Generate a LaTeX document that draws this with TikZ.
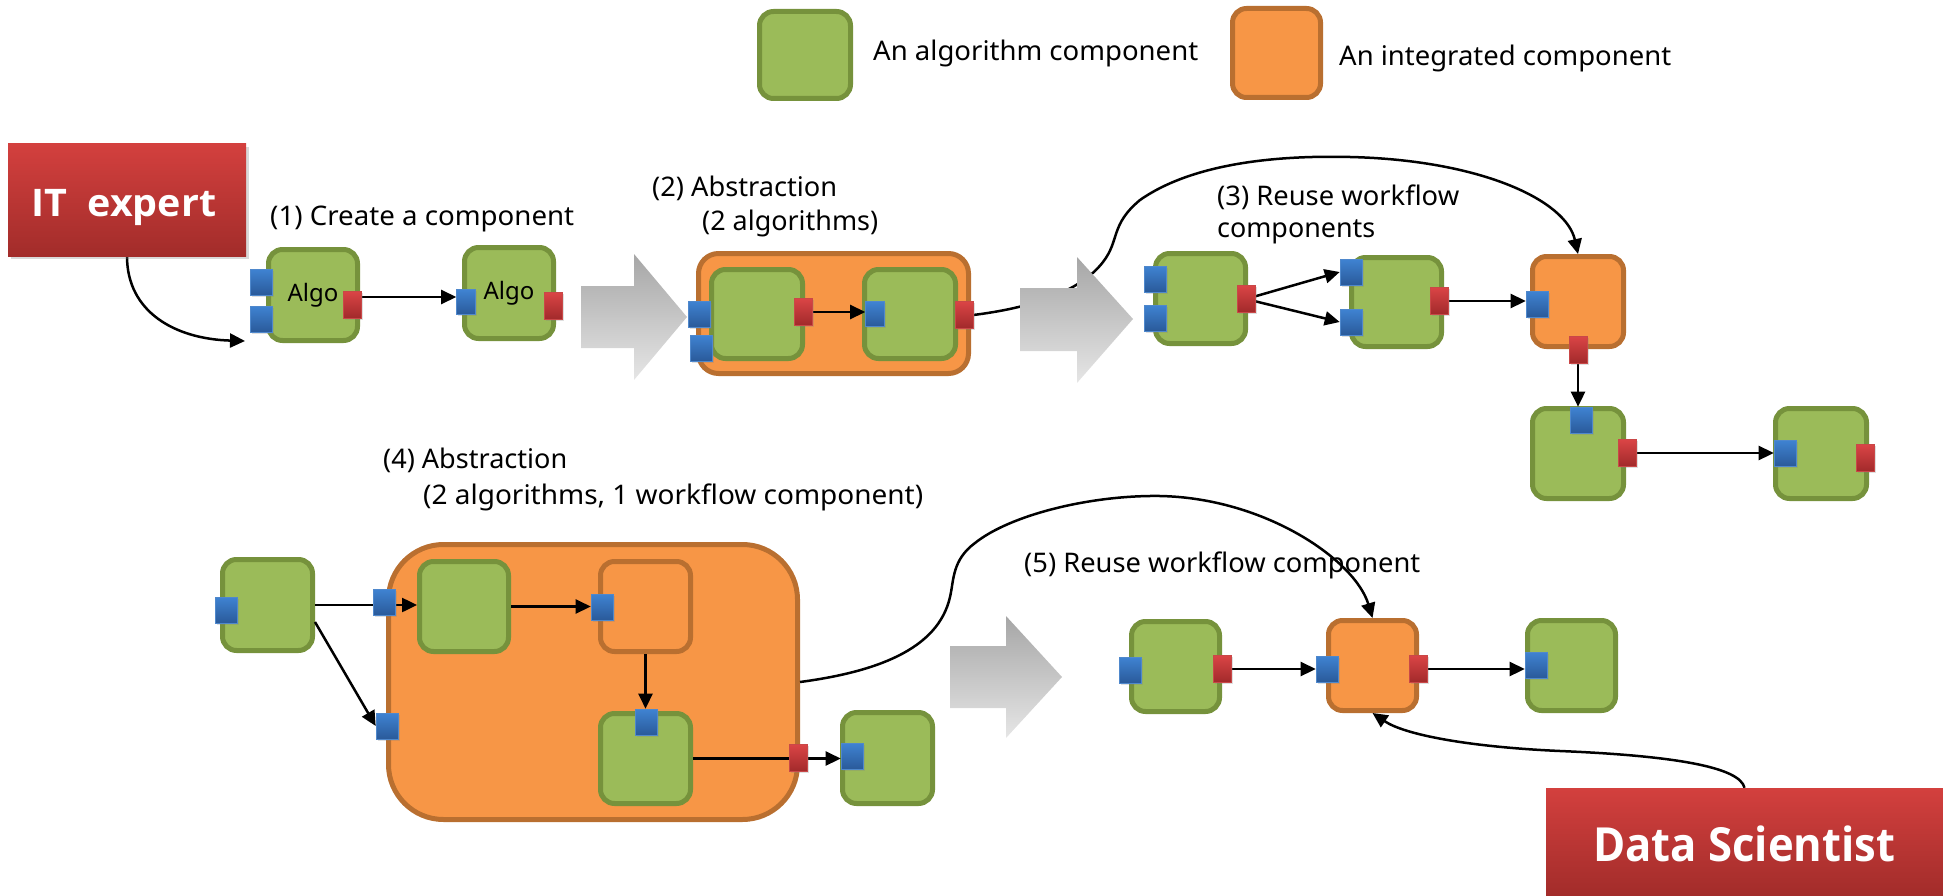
\documentclass[tikz,border=0pt]{standalone}
\usepackage{fontspec}
\setmainfont{Noto Sans}
\newfontfamily\actorfont{Open Sans}
\usepackage{graphicx}
\usetikzlibrary{arrows.meta,shadows,calc}
\pgfdeclarelayer{back}
\pgfdeclarelayer{front}
\pgfsetlayers{back,main,front}

\definecolor{algoFill}{HTML}{9BBB59}
\definecolor{algoEdge}{HTML}{76923C}
\definecolor{intFill}{HTML}{F79646}
\definecolor{intEdge}{HTML}{B96F30}
\definecolor{pbTop}{HTML}{3F83D2}
\definecolor{pbBot}{HTML}{2A5A9A}
\definecolor{pbEdge}{HTML}{4F88CC}
\definecolor{prTop}{HTML}{DA4545}
\definecolor{prBot}{HTML}{A1292B}
\definecolor{prEdge}{HTML}{C94848}
\definecolor{actTop}{HTML}{D3403E}
\definecolor{actBot}{HTML}{A22C2A}
\definecolor{flowTop}{HTML}{A6A6A6}
\definecolor{flowBot}{HTML}{E6E6E6}

% stretch a label horizontally to a given width, keeping its height
\newcommand{\fitw}[2]{\resizebox{#1pt}{\height}{#2}}
\newcommand{\capsize}{\fontsize{27}{32}\selectfont}

\begin{document}
\begin{tikzpicture}[x=1pt,y=-1pt,
  box/.style={rectangle, rounded corners=14pt, line width=5pt, inner sep=0pt,
              minimum width=90pt, minimum height=90pt},
  algo/.style={box, fill=algoFill, draw=algoEdge},
  integ/.style={box, fill=intFill, draw=intEdge},
  port/.style={rectangle, inner sep=0pt, line width=0.6pt,
               drop shadow={opacity=0.25, shadow xshift=1.5pt, shadow yshift=-1.5pt}},
  inport/.style={port, minimum width=22pt, minimum height=26pt,
                 top color=pbTop, bottom color=pbBot, draw=pbEdge},
  outport/.style={port, minimum width=18pt, minimum height=27pt,
                  top color=prTop, bottom color=prBot, draw=prEdge},
  captext/.style={inner sep=0pt, anchor=base west, font=\capsize},
  conn/.style={line width=2.5pt, -{Triangle[length=15pt,width=14pt]}},
  actor/.style={rectangle, inner sep=0pt, top color=actTop, bottom color=actBot,
                drop shadow={opacity=0.3, shadow xshift=3pt, shadow yshift=-3pt}},
  actortext/.style={inner sep=0pt, anchor=base west, text=white},
  flow/.style={top color=flowTop, bottom color=flowBot},
]
\useasboundingbox (0,0) rectangle (1943,896);

% ---------------- components ----------------
\begin{pgfonlayer}{back}
  % legend
  \node[algo, minimum width=91pt, minimum height=87pt] (lgA) at (805,55) {};
  \node[integ, minimum width=88pt, minimum height=89pt] (lgI) at (1276.5,53) {};

  % (1) two algorithm components
  \node[algo, minimum width=89pt, minimum height=91pt, font=\fontsize{24}{28}\selectfont] (algo1) at (313,295) {Algo};
  \node[algo, minimum width=89pt, minimum height=91pt, font=\fontsize{24}{28}\selectfont] (algo2) at (509,293) {Algo};

  % (2) integrated component holding two algorithms
  \node[integ, rounded corners=20pt, minimum width=270pt, minimum height=120pt] (o2) at (833.5,313.5) {};
  \node[algo, minimum width=91pt, minimum height=89pt] (g1) at (757,314) {};
  \node[algo, minimum width=91pt, minimum height=89pt] (g2) at (910,314) {};

  % (3) workflow reusing the integrated component
  \node[algo] (A) at (1200.5,298.5) {};
  \node[algo, minimum height=89pt] (B) at (1396.5,302) {};
  \node[integ, minimum width=91pt] (C) at (1578,301.5) {};
  \node[algo, minimum width=91pt] (D) at (1578,453.5) {};
  \node[algo, minimum width=91pt] (E) at (1821,453.5) {};

  % (4) larger integrated component
  \node[algo, minimum height=91pt] (F) at (267.5,605) {};
  \node[integ, rounded corners=55pt, minimum width=409pt, minimum height=275pt] (G) at (593,682) {};
  \node[algo, minimum width=89pt] (H) at (464,606.5) {};
  \node[integ] (I) at (645.5,606.5) {};
  \node[algo] (J) at (645.5,758.5) {};
  \node[algo, minimum height=91pt] (K) at (887.5,758) {};

  % (5) reuse of the larger component
  \node[algo, minimum width=88pt] (L) at (1175.5,666.5) {};
  \node[integ, minimum width=88pt] (M) at (1372.5,665.5) {};
  \node[algo, minimum width=88pt] (N) at (1571.5,665.5) {};
\end{pgfonlayer}

% ---------------- ports ----------------
\begin{pgfonlayer}{front}
  \node[inport] (a1in1) at (261,282) {};
  \node[inport] (a1in2) at (261,319) {};
  \node[outport] (a1out) at (352,305) {};
  \node[inport, minimum width=19pt, minimum height=25pt] (a2in) at (466,302) {};
  \node[outport] (a2out) at (553,306) {};

  \node[inport] (o2in1) at (699,314) {};
  \node[inport] (o2in2) at (701,348) {};
  \node[outport] (g1out) at (803,312) {};
  \node[inport, minimum width=19pt, minimum height=25pt] (g2in) at (875,314) {};
  \node[outport] (o2out) at (964,315) {};

  \node[inport] (ain1) at (1155,279) {};
  \node[inport] (ain2) at (1155,318) {};
  \node[outport] (aout) at (1246,299) {};
  \node[inport] (bin1) at (1351,272) {};
  \node[inport] (bin2) at (1351,322) {};
  \node[outport] (bout) at (1439,301) {};
  \node[inport] (cin) at (1537,304) {};
  \node[outport] (cout) at (1578,350) {};
  \node[inport] (din) at (1581,420) {};
  \node[outport] (dout) at (1627,453) {};
  \node[inport] (ein) at (1785,453) {};
  \node[outport] (eout) at (1865,458) {};

  \node[inport] (fin) at (226,610) {};
  \node[inport] (gin1) at (384,602) {};
  \node[inport] (gin2) at (387,726) {};
  \node[outport] (gout) at (798,758) {};
  \node[inport] (iin) at (602,607) {};
  \node[inport] (jin) at (646,722) {};
  \node[inport] (kin) at (852,756) {};

  \node[inport] (lin) at (1130,670) {};
  \node[outport] (lout) at (1222,669) {};
  \node[inport] (pMi) at (1327,669) {};
  \node[outport] (pMo) at (1418,669) {};
  \node[inport] (nin) at (1536,665) {};
\end{pgfonlayer}

% ---------------- captions ----------------
\node[captext] (lgAt) at (873,61) {\fitw{325}{An algorithm component}};
\node[captext] (lgIt) at (1339,66) {\fitw{332}{An integrated component}};
\node[captext] (cap1) at (270,225) {\fitw{304}{(1) Create a component}};
\node[captext] (cap2a) at (652,197) {\fitw{185}{(2) Abstraction}};
\node[captext] (cap2b) at (702,231) {\fitw{176}{(2 algorithms)}};
\node[captext] (cap3a) at (1217,206) {\fitw{242}{(3) Reuse workflow}};
\node[captext] (cap3b) at (1217,237) {\fitw{158}{components}};
\node[captext] (cap4a) at (383,468) {\fitw{184}{(4) Abstraction}};
\node[captext] (cap4b) at (423,504) {\fitw{500}{(2 algorithms, 1 workflow component)}};
\node[captext] (cap5) at (1024,572) {\fitw{396}{(5) Reuse workflow component}};

% ---------------- actors ----------------
\begin{pgfonlayer}{front}
  \node[actor, minimum width=238pt, minimum height=112pt] (it) at (127,200) {};
  \node[actortext, font=\actorfont\bfseries\fontsize{38}{44}\selectfont] (itlabel) at (31,217) {\fitw{185}{IT\ \ expert}};
  \node[actor, minimum width=397pt, minimum height=108pt] (ds) at (1744.5,842) {};
  \node[actortext, font=\actorfont\bfseries\fontsize{47}{54}\selectfont] (dslabel) at (1593,861) {\fitw{302}{Data Scientist}};
\end{pgfonlayer}
\coordinate (itend) at (245,341);

% ---------------- connectors ----------------
\draw[conn] (it.south) .. controls (127,312) and (175,339) .. (itend);
\draw[conn] ([yshift=8pt]a1out.east) -- ([yshift=8pt]a1out.east -| a2in.west);
\draw[conn] (g1out.east) -- (g1out.east -| g2in.west);

\draw[conn] (aout.center) -- (bin1.west);
\draw[conn] (aout.center) -- (bin2.west);
\draw[conn] (bout.east) -- (bout.east -| cin.west);
\draw[conn] (cout.south) -- (cout.south |- din.north);
\draw[conn] (dout.east) -- (dout.east -| ein.west);

\draw[conn] (F.east) -- (F.east -| H.west);
\draw[conn] ([yshift=-17pt]F.east) -- (gin2.west);
\draw[conn] (H.east) -- (H.east -| iin.west);
\draw[conn] (I.south) -- (I.south |- jin.north);
\draw[conn] (J.east) -- (J.east -| kin.west);

\draw[conn] (lout.east) -- (lout.east -| pMi.west);
\draw[conn] (pMo.east) -- (pMo.east -| nin.west);

% reuse links
\draw[conn] (o2out.east) .. controls (1030,308) and (1080,292) .. (1103,262)
  .. controls (1120,240) and (1110,225) .. (1140,200)
  .. controls (1190,165) and (1270,155) .. (1350,157)
  .. controls (1480,160) and (1566,200) .. (C.north);
\draw[conn] (G.east) .. controls (875,672) and (938,650) .. (950,597)
  .. controls (954,580) and (952,560) .. (975,543)
  .. controls (1010,515) and (1090,495) .. (1160,496)
  .. controls (1265,498) and (1355,560) .. (M.north);
\draw[conn] (ds.north) .. controls (1740,768) and (1680,756) .. (1560,751)
  .. controls (1470,747) and (1405,735) .. (M.south);

% ---------------- transition arrows ----------------
\begin{pgfonlayer}{front}
  \shade[flow] (581,286) -- (634,286) -- (634,254) -- (687,317) -- (634,380) -- (634,348) -- (581,348) -- cycle;
  \shade[flow] (1020,288) -- (1077,288) -- (1077,257) -- (1133,319) -- (1077,383) -- (1077,351) -- (1020,351) -- cycle;
  \shade[flow] (950,646) -- (1006,646) -- (1006,616) -- (1062,677) -- (1006,738) -- (1006,708) -- (950,708) -- cycle;
\end{pgfonlayer}
\end{tikzpicture}
\end{document}
